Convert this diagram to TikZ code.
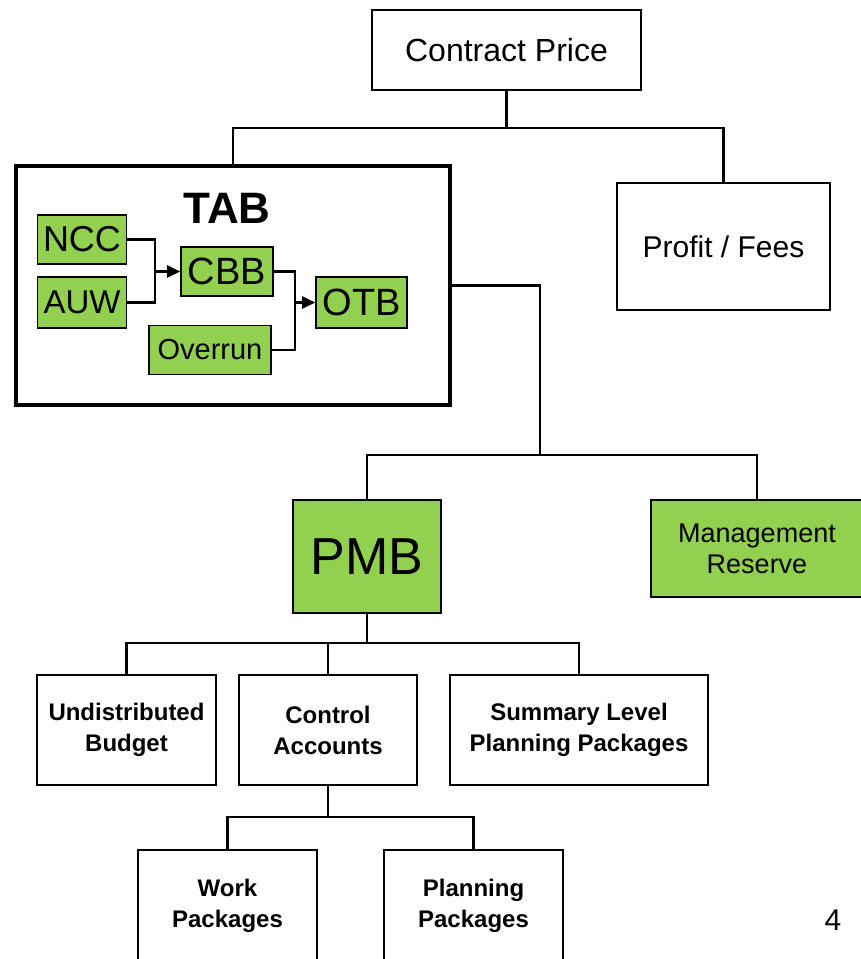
\documentclass[tikz,border=0pt]{standalone}
\usepackage{fontspec}
\setmainfont{Liberation Sans}
\usetikzlibrary{arrows.meta}

\definecolor{boxgreen}{RGB}{146,208,80}

\tikzset{
  box/.style = {draw, line width = 2pt, inner sep = 0pt, align = center,
    font = \fontsize{26}{31}\selectfont},
  lowbox/.style = {box, font = \fontsize{24}{31}\selectfont\bfseries},
  greenbox/.style = {box, fill = boxgreen, line width = 1.6pt},
  conn/.style = {line width = 2.2pt},
  merge/.style = {conn, -{Triangle[length = 13pt, width = 12pt]}}
}

\begin{document}
\begin{tikzpicture}[x = 1pt, y = -1pt]
  \useasboundingbox (0, 0) rectangle (861, 959);

  \node[box, minimum width = 269pt, minimum height = 80pt,
    font = \fontsize{32}{34}\selectfont] (cp) at (506.5, 50) {Contract Price};
  \node[box, line width = 3.5pt, minimum width = 434pt, minimum height = 239pt]
    (tab) at (233, 285.5) {};
  \node[box, minimum width = 213pt, minimum height = 127pt,
    font = \fontsize{30}{32}\selectfont] (pf) at (723.5, 246.5) {Profit / Fees};

  % inside the TAB box
  \node[font = \fontsize{44}{46}\selectfont\bfseries] (tablbl) at (227, 208) {TAB};
  \node[greenbox, minimum width = 89pt, minimum height = 49pt,
    font = \fontsize{36}{36}\selectfont] (ncc) at (82, 239.5) {NCC};
  \node[greenbox, minimum width = 89pt, minimum height = 51pt,
    font = \fontsize{33}{36}\selectfont] (auw) at (82, 302.5) {AUW};
  \node[greenbox, minimum width = 92pt, minimum height = 49pt,
    font = \fontsize{38}{38}\selectfont] (cbb) at (227, 271.5) {CBB};
  \node[greenbox, minimum width = 122pt, minimum height = 49pt,
    font = \fontsize{29}{30}\selectfont] (ovr) at (210, 350) {Overrun};
  \node[greenbox, minimum width = 91pt, minimum height = 51pt,
    font = \fontsize{38}{38}\selectfont] (otb) at (361.5, 302.5) {OTB};

  \coordinate (j1) at (155, 271.5);
  \coordinate (j2) at (295, 302.5);
  \draw[conn] (ncc.east) -| (j1) |- (auw.east);
  \draw[merge] (j1) -- (cbb.west);
  \draw[conn] (cbb.east) -| (j2) |- (ovr.east);
  \draw[merge] (j2) -- (otb.west);

  \node[greenbox, minimum width = 148pt, minimum height = 113pt,
    font = \fontsize{52}{54}\selectfont] (pmb) at (367, 556.5) {PMB};
  \node[greenbox, minimum width = 212pt, minimum height = 97pt,
    font = \fontsize{27}{31}\selectfont] (mr) at (757, 548.5) {Management\\Reserve};

  \node[lowbox, minimum width = 179pt, minimum height = 110pt]
    (ub) at (126.5, 730) {Undistributed\\Budget};
  \node[lowbox, minimum width = 178pt, minimum height = 110pt]
    (ca) at (328, 730) {Control\\Accounts};
  \node[lowbox, minimum width = 258pt, minimum height = 110pt]
    (slpp) at (579, 730) {Summary Level\\Planning Packages};
  \node[lowbox, minimum width = 179pt, minimum height = 112pt]
    (wp) at (227.5, 906) {Work\\Packages};
  \node[lowbox, minimum width = 179pt, minimum height = 112pt]
    (pp) at (473.5, 906) {Planning\\Packages};

  \node[font = \fontsize{30}{32}\selectfont] (pagenum) at (833, 920) {4};

  \coordinate (top) at (506.5, 128);
  \coordinate (mid) at (540, 455);
  \coordinate (pmbj) at (367, 643);
  \coordinate (caj) at (328, 817);

  \draw[conn] (cp.south) -- (top);
  \draw[conn] (tab.north) |- (top) -| (pf.north);
  \draw[conn] (tab.east) -| (mid);
  \draw[conn] (pmb.north) |- (mid) -| (mr.north);
  \draw[conn] (pmb.south) -- (pmbj);
  \draw[conn] (ub.north) |- (pmbj) -| (slpp.north);
  \draw[conn] (ca.north) -- (ca.north |- pmbj);
  \draw[conn] (ca.south) -- (caj);
  \draw[conn] (wp.north) |- (caj) -| (pp.north);
\end{tikzpicture}
\end{document}
